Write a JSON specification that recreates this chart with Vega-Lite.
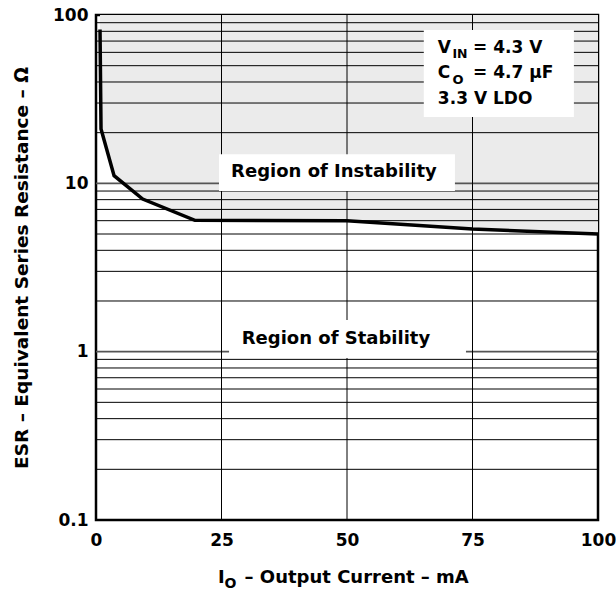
{
  "$schema": "https://vega.github.io/schema/vega-lite/v6.json",
  "width": 502,
  "height": 505,
  "autosize": "none",
  "padding": {"left": 96, "top": 15, "right": 18, "bottom": 70},
  "background": "white",
  "config": {
    "view": {"stroke": "black", "strokeWidth": 2.5},
    "axis": {
      "domain": false, "ticks": false, "grid": false,
      "labelFont": "DejaVu Sans", "labelFontWeight": "bold", "labelFontSize": 17, "labelColor": "black",
      "titleFont": "DejaVu Sans", "titleFontWeight": "bold", "titleFontSize": 18.5, "titleColor": "black"
    },
    "text": {"font": "DejaVu Sans", "fontWeight": "bold", "color": "black"}
  },
  "datasets": {
    "curve": [
      {"I": 0.8, "ESR": 82},
      {"I": 1.0, "ESR": 21},
      {"I": 3.6, "ESR": 11.1},
      {"I": 9.3, "ESR": 8.07},
      {"I": 19.7, "ESR": 6.03},
      {"I": 50, "ESR": 6.0},
      {"I": 75, "ESR": 5.35},
      {"I": 100, "ESR": 5.0}
    ],
    "hgrid": [
      {"ESR": 0.2}, {"ESR": 0.3}, {"ESR": 0.4}, {"ESR": 0.5}, {"ESR": 0.6}, {"ESR": 0.7}, {"ESR": 0.8}, {"ESR": 0.9},
      {"ESR": 1}, {"ESR": 2}, {"ESR": 3}, {"ESR": 4}, {"ESR": 5}, {"ESR": 6}, {"ESR": 7}, {"ESR": 8}, {"ESR": 9},
      {"ESR": 10}, {"ESR": 20}, {"ESR": 30}, {"ESR": 40}, {"ESR": 50}, {"ESR": 60}, {"ESR": 70}, {"ESR": 80}, {"ESR": 90}
    ],
    "vgrid": [{"I": 25}, {"I": 50}, {"I": 75}]
  },
  "layer": [
    {
      "data": {"name": "curve"},
      "mark": {"type": "area", "color": "#ebebeb"},
      "encoding": {
        "x": {"field": "I", "type": "quantitative", "scale": {"domain": [0, 100], "nice": false},
              "axis": {"values": [0, 25, 50, 75, 100], "title": null, "labelPadding": 12, "labelFlush": false}},
        "y": {"field": "ESR", "type": "quantitative", "scale": {"type": "log", "domain": [0.1, 100], "nice": false},
              "axis": {"values": [0.1, 1, 10, 100], "format": "~g", "labelPadding": 8,
                       "title": "ESR – Equivalent Series Resistance – Ω", "titlePadding": 21}},
        "y2": {"datum": 100}
      }
    },
    {
      "data": {"name": "hgrid"},
      "mark": {"type": "rule"},
      "encoding": {
        "y": {"field": "ESR", "type": "quantitative"},
        "color": {"condition": {"test": "datum.ESR == 1 || datum.ESR == 10", "value": "#555555"}, "value": "black"},
        "strokeWidth": {"condition": {"test": "datum.ESR == 1 || datum.ESR == 10", "value": 1.6}, "value": 1}
      }
    },
    {
      "data": {"name": "vgrid"},
      "mark": {"type": "rule", "color": "black", "strokeWidth": 1},
      "encoding": {"x": {"field": "I", "type": "quantitative"}}
    },
    {
      "data": {"values": [{}]},
      "layer": [
        {"mark": {"type": "rect", "color": "white"},
         "encoding": {"x": {"datum": 24.5, "type": "quantitative"}, "x2": {"datum": 71.5},
                      "y": {"datum": 9.0, "type": "quantitative"}, "y2": {"datum": 14.9}}},
        {"mark": {"type": "rect", "color": "white"},
         "encoding": {"x": {"datum": 26.5, "type": "quantitative"}, "x2": {"datum": 73.7},
                      "y": {"datum": 0.916, "type": "quantitative"}, "y2": {"datum": 1.54}}},
        {"mark": {"type": "rect", "color": "white"},
         "encoding": {"x": {"datum": 65.3, "type": "quantitative"}, "x2": {"datum": 95.2},
                      "y": {"datum": 24.8, "type": "quantitative"}, "y2": {"datum": 81.4}}},
        {"mark": {"type": "text", "text": "Region of Instability", "fontSize": 18, "align": "center", "baseline": "alphabetic"},
         "encoding": {"x": {"datum": 47.4, "type": "quantitative"}, "y": {"datum": 10.96, "type": "quantitative"}}},
        {"mark": {"type": "text", "text": "Region of Stability", "fontSize": 18, "align": "center", "baseline": "alphabetic"},
         "encoding": {"x": {"datum": 47.8, "type": "quantitative"}, "y": {"datum": 1.106, "type": "quantitative"}}},
        {"mark": {"type": "text", "text": "V", "fontSize": 17, "align": "left", "baseline": "alphabetic"},
         "encoding": {"x": {"datum": 68.1, "type": "quantitative"}, "y": {"datum": 59.2, "type": "quantitative"}}},
        {"mark": {"type": "text", "text": "IN", "fontSize": 12.5, "align": "left", "baseline": "alphabetic"},
         "encoding": {"x": {"datum": 71.0, "type": "quantitative"}, "y": {"datum": 55.3, "type": "quantitative"}}},
        {"mark": {"type": "text", "text": "= 4.3 V", "fontSize": 17, "align": "left", "baseline": "alphabetic"},
         "encoding": {"x": {"datum": 75.1, "type": "quantitative"}, "y": {"datum": 59.2, "type": "quantitative"}}},
        {"mark": {"type": "text", "text": "C", "fontSize": 17, "align": "left", "baseline": "alphabetic"},
         "encoding": {"x": {"datum": 68.1, "type": "quantitative"}, "y": {"datum": 42.1, "type": "quantitative"}}},
        {"mark": {"type": "text", "text": "O", "fontSize": 13, "align": "left", "baseline": "alphabetic"},
         "encoding": {"x": {"datum": 71.0, "type": "quantitative"}, "y": {"datum": 38.7, "type": "quantitative"}}},
        {"mark": {"type": "text", "text": "= 4.7 μF", "fontSize": 17, "align": "left", "baseline": "alphabetic"},
         "encoding": {"x": {"datum": 75.1, "type": "quantitative"}, "y": {"datum": 42.1, "type": "quantitative"}}},
        {"mark": {"type": "text", "text": "3.3 V LDO", "fontSize": 17, "align": "left", "baseline": "alphabetic"},
         "encoding": {"x": {"datum": 68.1, "type": "quantitative"}, "y": {"datum": 29.5, "type": "quantitative"}}},
        {"mark": {"type": "text", "text": "I", "fontSize": 18, "align": "left", "baseline": "alphabetic"},
         "encoding": {"x": {"datum": 24.3, "type": "quantitative"}, "y": {"datum": 0.042, "type": "quantitative"}}},
        {"mark": {"type": "text", "text": "O", "fontSize": 14, "align": "left", "baseline": "alphabetic"},
         "encoding": {"x": {"datum": 25.6, "type": "quantitative"}, "y": {"datum": 0.0395, "type": "quantitative"}}},
        {"mark": {"type": "text", "text": "– Output Current – mA", "fontSize": 18, "align": "left", "baseline": "alphabetic"},
         "encoding": {"x": {"datum": 29.6, "type": "quantitative"}, "y": {"datum": 0.042, "type": "quantitative"}}}
      ]
    },
    {
      "data": {"name": "curve"},
      "mark": {"type": "line", "color": "black", "strokeWidth": 3.5, "clip": false},
      "encoding": {
        "x": {"field": "I", "type": "quantitative"},
        "y": {"field": "ESR", "type": "quantitative"}
      }
    }
  ]
}
